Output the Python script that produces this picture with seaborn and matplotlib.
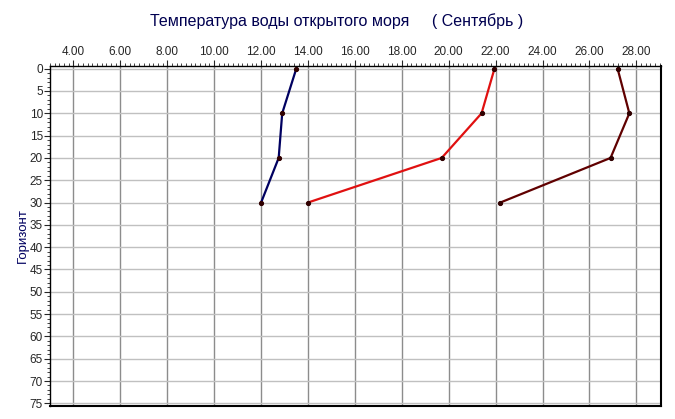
import matplotlib
matplotlib.use('Agg')
import matplotlib.pyplot as plt
import seaborn as sns
import pandas as pd
from matplotlib.ticker import MultipleLocator, FormatStrFormatter

# данные
depths = [0, 10, 20, 30]
temp_blue = [13.5, 12.9, 12.75, 12.0]
temp_red = [21.95, 21.4, 19.7, 14.0]
temp_dark = [27.2, 27.7, 26.9, 22.2]
series_colors = ['#000060', '#e01010', '#600000']

title = 'Температура воды открытого моря     ( Сентябрь )'
y_label = 'Горизонт'

sns.set_style('white')
plt.rcParams['font.family'] = ['Liberation Sans', 'DejaVu Sans']

fig = plt.figure(figsize=(6.75, 4.19), dpi=100)
ax = fig.add_axes([50 / 675, 1 - 406 / 419, 611 / 675, 340 / 419])

for temps, col in zip([temp_blue, temp_red, temp_dark], series_colors):
    df = pd.DataFrame({'t': temps, 'h': depths})
    sns.lineplot(data=df, x='t', y='h', sort=False, estimator=None, ax=ax,
                 color=col, linewidth=1.6, marker='o', markersize=3,
                 markerfacecolor='#300000', markeredgecolor='#300000')

ax.set_xlim(3, 29.05)
ax.set_ylim(75.6, -0.6)

ax.xaxis.tick_top()
ax.xaxis.set_major_locator(MultipleLocator(2))
ax.xaxis.set_minor_locator(MultipleLocator(0.2))
ax.xaxis.set_major_formatter(FormatStrFormatter('%.2f'))
ax.yaxis.set_major_locator(MultipleLocator(5))
ax.yaxis.set_minor_locator(MultipleLocator(1))

ax.tick_params(axis='x', which='major', direction='out', length=4, width=0.8,
               labelsize=8.5, pad=2, top=True, bottom=False)
ax.tick_params(axis='x', which='minor', direction='out', length=2.5, width=0.6,
               top=True, bottom=False)
ax.tick_params(axis='y', which='major', direction='out', length=4, width=0.8,
               labelsize=8.5, pad=1, left=True)
ax.tick_params(axis='y', which='minor', direction='out', length=2.5, width=0.6,
               left=True)

ax.grid(False)
for x in range(4, 29, 2):
    ax.axvline(x, color='#8c8c8c', linewidth=1.0, zorder=0)
for y in range(0, 76, 5):
    ax.axhline(y, color='#c0c0c0', linewidth=1.0, zorder=0)

for s in ax.spines.values():
    s.set_color('black')
    s.set_linewidth(1.0)
ax.spines['bottom'].set_linewidth(1.5)
ax.spines['right'].set_linewidth(1.5)

ax.set_xlabel('')
ax.set_ylabel(y_label, color='#000060', fontsize=9.5)
ax.yaxis.set_label_coords(-0.034, 0.5)
fig.text(337 / 675, 1 - 21 / 419, title, ha='center', va='center',
         fontsize=11.5, color='#000050')

fig.savefig('out.png', dpi=100)
